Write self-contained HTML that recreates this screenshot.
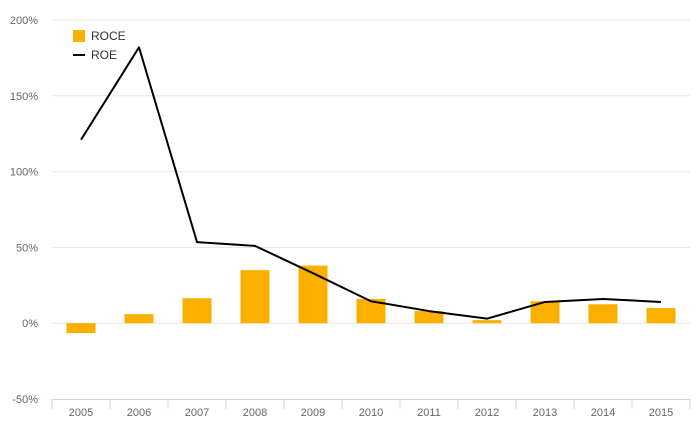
<!DOCTYPE html>
<html><head><meta charset="utf-8"><style>
body{margin:0;background:#fff;}
svg{display:block;font-family:"Liberation Sans",sans-serif;}
</style></head><body>
<svg id="chart" width="700" height="433" viewBox="0 0 700 433"></svg>
<script>
const categories=['2005','2006','2007','2008','2009','2010','2011','2012','2013','2014','2015'];
const roceValues=[-6.5,6,16.5,35,38,16,8,2,14.5,12.5,10];
const roeValues=[121,182,53.5,51,33,14.5,8,3,14,16,14];
const yTicks=[-50,0,50,100,150,200];
const yTickLabels=['-50%','0%','50%','100%','150%','200%'];
const NS='http://www.w3.org/2000/svg';
const svg=document.getElementById('chart');
const x0=52,x1=690,yTop=20,yBot=399,vMin=-50,vMax=200;
const band=(x1-x0)/categories.length;
const xc=i=>x0+band*(i+0.5);
const y=v=>yBot-(v-vMin)/(vMax-vMin)*(yBot-yTop);
function mk(tag,attrs,parent){const e=document.createElementNS(NS,tag);for(const k in attrs)e.setAttribute(k,attrs[k]);(parent||svg).appendChild(e);return e;}
yTicks.forEach((t,i)=>{
  if(t!==vMin){const g=mk('line',{x1:x0,x2:x1,y1:y(t),y2:y(t),stroke:'#e6e6e6','stroke-width':1});
  
  }
  const l=mk('text',{x:38,y:y(t)+4,'text-anchor':'end','font-size':11,fill:'#666'});
  l.textContent=yTickLabels[i];
  
  
});
const ax=mk('line',{x1:x0,x2:x1,y1:yBot+0.5,y2:yBot+0.5,stroke:'#ccd6eb','stroke-width':1});


for(let i=0;i<=categories.length;i++){
  const tk=mk('line',{x1:x0+band*i,x2:x0+band*i,y1:yBot,y2:yBot+10,stroke:'#ccd6eb'});
  
  
}
categories.forEach((c,i)=>{
  const t=mk('text',{x:xc(i),y:yBot+17,'text-anchor':'middle','font-size':11,fill:'#666'});
  t.textContent=c;
  
  
  const v=roceValues[i];
  const r=mk('rect',{x:xc(i)-14.5,y:Math.min(y(v),y(0)),width:29,height:Math.abs(y(v)-y(0)),fill:'#fbb000'});
  
  
});
const pts=roeValues.map((v,i)=>xc(i)+','+y(v)).join(' ');
const pl=mk('polyline',{points:pts,fill:'none',stroke:'#000','stroke-width':2,'stroke-linejoin':'round'});


const lg=mk('g',{});


const l1=mk('rect',{x:73,y:30,width:12,height:12,fill:'#fbb000'},lg);


const t1=mk('text',{x:91,y:40,'font-size':12,fill:'#333'},lg);t1.textContent='ROCE';


const l2=mk('line',{x1:73,x2:85,y1:55,y2:55,stroke:'#000','stroke-width':2},lg);


const t2=mk('text',{x:91,y:59,'font-size':12,fill:'#333'},lg);t2.textContent='ROE';


</script>
</body></html>
